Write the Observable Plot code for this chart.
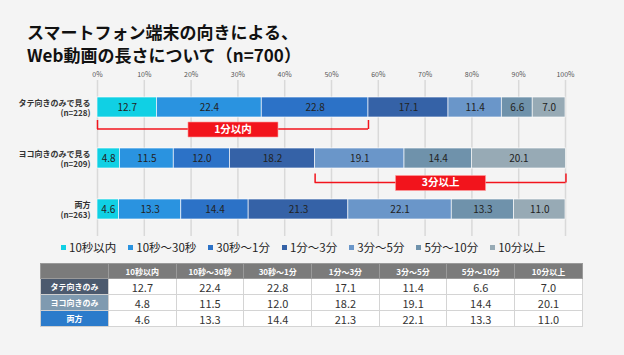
<!DOCTYPE html>
<html>
<head>
<meta charset="utf-8">
<script src="https://cdn.jsdelivr.net/npm/d3@7"></script>
<script src="https://cdn.jsdelivr.net/npm/@observablehq/plot@0.6"></script>
<style>
  html, body { margin: 0; padding: 0; }
  body { width: 624px; height: 355px; background: #f4f4f4; position: relative; overflow: hidden;
         font-family: "Noto Sans CJK JP", "Noto Sans", sans-serif; }
  #title { position: absolute; left: 27px; top: 20px; font-size: 17px; line-height: 23px; font-weight: bold; color: #111; }
  #chart { position: absolute; left: 0; top: 60px; }
  #legend { position: absolute; left: 61px; top: 239px; display: flex; gap: 12px; font-size: 11.5px; color: #222; white-space: nowrap; }
  #legend .item { display: flex; align-items: center; gap: 3px; }
  #legend .sw { width: 5px; height: 5px; display: inline-block; }
  #tbl { position: absolute; left: 40px; top: 263px; width: 542px; border-collapse: collapse; table-layout: fixed; background: #fff; }
  #tbl th, #tbl td { padding: 0; text-align: center; }
  #tbl thead th { background: #7b7b7b; color: #fff; font-size: 8px; font-weight: bold; height: 14px; border: 1px solid #9a9a9a; }
  #tbl tbody th { color: #fff; font-size: 8px; font-weight: bold; height: 15px; border: 1px solid #cfcfcf; }
  #tbl tbody td { color: #333; font-size: 11px; height: 15px; line-height: 14px; border: 1px solid #d4d4d4; }
</style>
</head>
<body>
<div id="title">スマートフォン端末の向きによる、<br>Web動画の長さについて（n=700）</div>
<div id="chart"></div>
<div id="legend"></div>
<table id="tbl"></table>
<script>
// ---- data ----
const categories = ["10秒以内", "10秒〜30秒", "30秒〜1分", "1分〜3分", "3分〜5分", "5分〜10分", "10分以上"];
const groups = ["タテ向きのみで見る", "ヨコ向きのみで見る", "両方"];
const groupN = [228, 209, 263];
const tableRowLabels = ["タテ向きのみ", "ヨコ向きのみ", "両方"];
const valuesTate = [12.7, 22.4, 22.8, 17.1, 11.4, 6.6, 7.0];
const valuesYoko = [4.8, 11.5, 12.0, 18.2, 19.1, 14.4, 20.1];
const valuesBoth = [4.6, 13.3, 14.4, 21.3, 22.1, 13.3, 11.0];
const xTicks = [0, 10, 20, 30, 40, 50, 60, 70, 80, 90, 100];
const bracketLabels = ["1分以内", "3分以上"];
const bracketGroups = [0, 1];
const bracketFrom = [0, 4];   // category index range [from, to)
const bracketTo = [3, 7];

// ---- styles ----
const colors = ["#10d0e4", "#2a93e0", "#2c72c7", "#3562a7", "#6a96c9", "#6f92ab", "#97aab5"];
const rowHeaderColors = ["#4c5a6e", "#7f9ab0", "#2b7bcb"];
const red = "#f2141c";

const seriesValues = [valuesTate, valuesYoko, valuesBoth];
const data = groups.flatMap((g, gi) => categories.map((c, ci) => ({group: g, category: c, value: seriesValues[gi][ci]})));

const sum = (arr, a, b) => arr.slice(a, b).reduce((s, v) => s + v, 0);
const brackets = bracketLabels.map((label, i) => {
  const vals = seriesValues[bracketGroups[i]];
  const x1 = sum(vals, 0, bracketFrom[i]);
  const x2 = sum(vals, 0, bracketTo[i]);
  return {group: groups[bracketGroups[i]], x1, x2, mid: (x1 + x2) / 2, label};
});
const bracketDy = [22, 24.5];

const boxSymbol = { draw(ctx) { ctx.rect(-45, -7.5, 90, 15); } };

const bracketMarks = brackets.flatMap((b, i) => [
  Plot.tickX([b.x1, b.x2].map(x => ({x, group: b.group})), {x: "x", y: "group", stroke: red, strokeWidth: 1.5, insetTop: 11, dy: bracketDy[i] - 10}),
  Plot.barX([b], {x1: "x1", x2: "x2", y: "group", fill: red, insetTop: 9.25, insetBottom: 9.25, dy: bracketDy[i]}),
  Plot.dot([b], {x: "mid", y: "group", symbol: boxSymbol, fill: red, stroke: "#ff9c9c", strokeWidth: 0.6, dy: bracketDy[i]}),
  Plot.text([b], {x: "mid", y: "group", text: "label", fill: "white", fontSize: 10.5, fontWeight: "bold", dy: bracketDy[i]})
]);

const chart = Plot.plot({
  width: 624,
  height: 180,
  marginLeft: 97,
  marginRight: 59,
  marginTop: 20,
  marginBottom: 4,
  style: {background: "transparent", fontFamily: '"Noto Sans CJK JP", "Noto Sans", sans-serif', overflow: "visible"},
  x: {domain: [0, 100], label: null},
  y: {domain: groups, paddingInner: 0.615, paddingOuter: 0.3077, label: null},
  color: {domain: categories, range: colors},
  marks: [
    Plot.gridX(xTicks, {stroke: "#d9d9d9", strokeOpacity: 1, strokeWidth: 1.5}),
    Plot.axisX(xTicks, {anchor: "top", tickSize: 0, tickPadding: 4, fontSize: 7, fill: "#555", label: null, tickFormat: d => d + "%"}),
    Plot.axisY({tickSize: 0, tickPadding: 7, fontSize: 8, fill: "#333", fontWeight: "bold", lineHeight: 1.3, label: null,
      tickFormat: d => d + "\n(n=" + groupN[groups.indexOf(d)] + ")"}),
    Plot.barX(data, Plot.stackX({x: "value", y: "group", fill: "category", stroke: "white", strokeWidth: 0.8, strokeOpacity: 0.8})),
    Plot.text(data, Plot.stackX({x: "value", y: "group", text: d => d.value.toFixed(1), fill: "#222", fontSize: 10})),
    ...bracketMarks
  ]
});
document.getElementById("chart").appendChild(chart);

// legend
const legend = document.getElementById("legend");
categories.forEach((c, i) => {
  const item = document.createElement("span");
  item.className = "item";
  const sw = document.createElement("span");
  sw.className = "sw";
  sw.style.background = colors[i];
  const t = document.createElement("span");
  t.textContent = c;
  item.append(sw, t);
  legend.appendChild(item);
});

// table
const tbl = document.getElementById("tbl");
const colgroup = document.createElement("colgroup");
[68, ...categories.map(() => 67.7)].forEach(w => { const col = document.createElement("col"); col.style.width = w + "px"; colgroup.appendChild(col); });
tbl.appendChild(colgroup);
const thead = document.createElement("thead");
const hr = document.createElement("tr");
["", ...categories].forEach(c => { const th = document.createElement("th"); th.textContent = c; hr.appendChild(th); });
thead.appendChild(hr);
tbl.appendChild(thead);
const tbody = document.createElement("tbody");
tableRowLabels.forEach((r, ri) => {
  const tr = document.createElement("tr");
  const th = document.createElement("th");
  th.textContent = r;
  th.style.background = rowHeaderColors[ri];
  tr.appendChild(th);
  seriesValues[ri].forEach(v => { const td = document.createElement("td"); td.textContent = v.toFixed(1); tr.appendChild(td); });
  tbody.appendChild(tr);
});
tbl.appendChild(tbody);
</script>
</body>
</html>
